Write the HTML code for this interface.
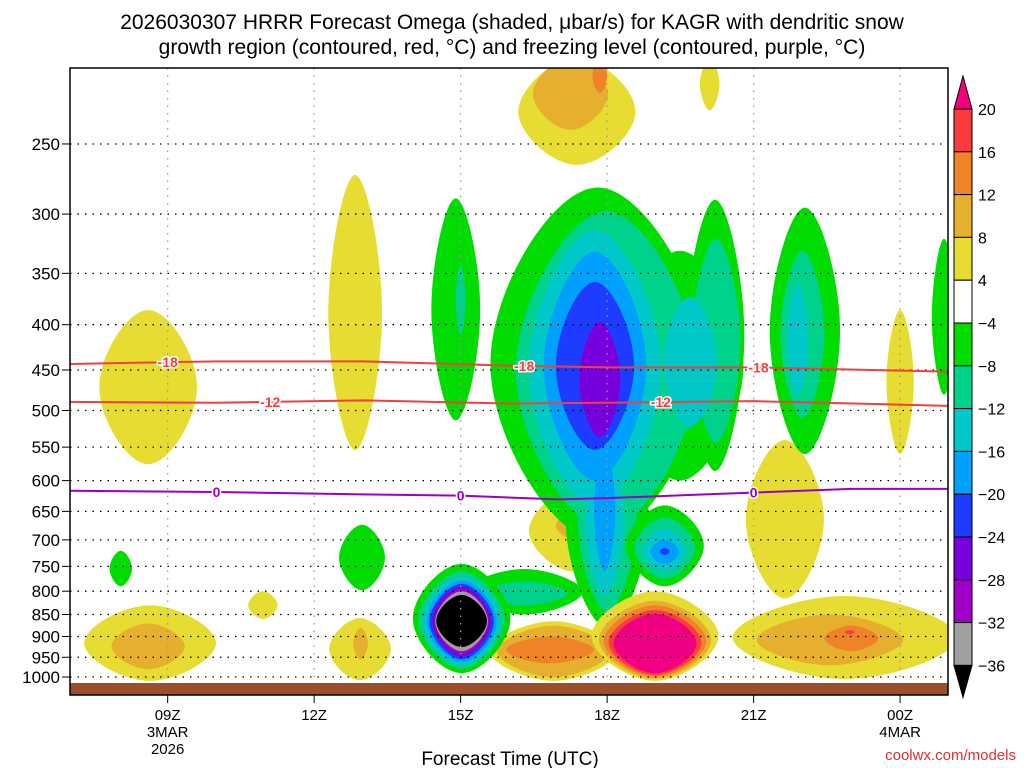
<!DOCTYPE html>
<html><head><meta charset="utf-8"><style>
body{margin:0;background:#fff;}
svg{display:block;font-family:"Liberation Sans",sans-serif;}
</style></head><body>
<svg id="c" width="1024" height="768" viewBox="0 0 1024 768">
<defs><clipPath id="pc"><rect x="70" y="68" width="878" height="627"/></clipPath></defs>
<text x="512" y="29" text-anchor="middle" font-size="21" fill="#000">2026030307 HRRR Forecast Omega (shaded, μbar/s) for KAGR with dendritic snow</text>
<text x="512" y="54" text-anchor="middle" font-size="21" fill="#000">growth region (contoured, red, °C) and freezing level (contoured, purple, °C)</text>
<g id="shade" clip-path="url(#pc)"></g>
<g id="grid"></g>
<g id="lines" clip-path="url(#pc)"></g>
<rect x="70" y="683" width="878" height="12" fill="#9c4f2b"/>
<rect x="70" y="68" width="878" height="627" fill="none" stroke="#000" stroke-width="1.5"/>
<g id="axes"></g>
<g id="cbar"></g>
<text x="510" y="765" text-anchor="middle" font-size="19" fill="#000">Forecast Time (UTC)</text>
<text x="1016" y="760" text-anchor="end" font-size="15" fill="#e23030">coolwx.com/models</text>
</svg>
<script>
// ---- data (hour, half-width hours, top pressure, bottom pressure, omega level) ----
const leftBlobs=[[8.6,1.0,385,575,4],[8.64,1.35,830,1010,4],[8.6,0.75,870,980,8],[8.04,0.23,720,790,-4],[10.95,0.3,800,860,4]];
const midBlobs=[[12.84,0.55,271,554,4],[12.94,0.63,858,1008,4],[12.95,0.15,880,955,8],[12.98,0.47,673,798,-4],[14.9,0.5,288,513,-4],[15.0,0.1,342,411,-8]];
const topBlobs=[[17.38,1.2,200,264,4],[17.25,0.77,200,241,8],[17.85,0.15,200,219,12],[20.1,0.2,200,229,4]];
const lowYellow=[[17.3,0.9,615,760,4],[17.35,0.4,650,700,8],[18.06,0.35,700,850,4]];
const mainCore=[[17.81,2.2,280,700,-4],[18.0,0.85,500,880,-4],[19.49,1.3,330,600,-4],[20.21,0.6,289,585,-4],
 [17.98,1.85,298,680,-8],[18.0,0.6,520,845,-8],[20.23,0.5,320,544,-8],[19.3,0.8,380,540,-8],
 [17.75,1.35,313,640,-12],[17.95,0.4,540,810,-12],[19.7,0.55,372,522,-12],
 [17.75,1.05,331,600,-16],[17.95,0.22,550,760,-16],[17.75,0.8,358,554,-20],[17.85,0.42,397,536,-24]];
const lowBlobs=[[16.9,1.3,865,1010,4],[16.9,1.15,875,1000,8],[16.83,0.9,900,965,12],
 [18.98,1.3,800,1010,4],[18.98,1.15,820,1005,8],[18.98,1.05,830,1000,12],[18.98,0.95,840,995,16],[18.98,0.85,848,990,20],
 [19.18,0.8,640,790,-4],[19.18,0.62,660,775,-8],[19.18,0.45,680,760,-12],[19.18,0.3,700,745,-16],[19.18,0.1,715,728,-20]];
const ringBlobs=[[16.3,1.2,755,850,-4],[16.3,0.9,780,830,-8],
 [15.02,1.0,745,990,-4],[15.02,0.88,760,978,-8],[15.02,0.8,770,970,-12],[15.02,0.72,778,962,-16],[15.02,0.66,785,955,-20],[15.02,0.6,790,948,-24],[15.02,0.56,795,942,-28],[15.02,0.54,800,935,-32],[15.02,0.52,808,925,-36]];
const rightBlobs=[[21.64,0.8,540,815,4],[22.05,0.72,295,560,-4],[22.0,0.45,330,510,-8],[21.9,0.22,360,480,-12],
 [24.9,0.25,320,480,-4],[24.0,0.28,385,560,4],
 [22.87,2.3,810,1005,4],[22.56,1.5,850,970,8],[23.0,0.55,875,935,12],[22.97,0.1,885,895,16]];
const lineHours=[7,10,13,16,18,21,25];
const minus18P=[443,440,440,445,447,447,452];
const minus12P=[489,490,487,491,490,488,494];
const zeroHours=[7,10,13,15,17,18,20,23,25];
const zeroP=[616,618,622,624,630,628,622,613,613];
const timeTickHours=[9,12,15,18,21,24];
const timeTickLabels=["09Z","12Z","15Z","18Z","21Z","00Z"];
const pressureTicks=[250,300,350,400,450,500,550,600,650,700,750,800,850,900,950,1000];
const cbarLevels=[20,16,12,8,4,-4,-8,-12,-16,-20,-24,-28,-32,-36];
const cbarColors=["#fa3c3c","#f08228","#e6af2d","#e6dc32","#ffffff","#00dc00","#00d28c","#00c8c8","#00a0ff","#1e3cff","#7800dc","#a000c8","#a0a0a0"];
// ---- axes ----
const X=h=>70+(h-7)*48.83;
const Y=p=>677-384.5*Math.log(1000/p);
const COL={"4":"#e6dc32","8":"#e6af2d","12":"#f08228","16":"#fa3c3c","20":"#f00082","-4":"#00dc00","-8":"#00d28c","-12":"#00c8c8","-16":"#00a0ff","-20":"#1e3cff","-24":"#7800dc","-28":"#a000c8","-32":"#a0a0a0","-36":"#000000"};
const NS="http://www.w3.org/2000/svg";
function mk(t,a,parent){const e=document.createElementNS(NS,t);for(const k in a)e.setAttribute(k,a[k]);parent.appendChild(e);return e;}
function lens(cx,cy,rx,ry){
 const k=0.42,kx=rx*k,ky=ry*k;
 return `M${cx} ${cy-ry} C${cx+kx} ${cy-ry} ${cx+rx} ${cy-ky} ${cx+rx} ${cy} C${cx+rx} ${cy+ky} ${cx+kx} ${cy+ry} ${cx} ${cy+ry} C${cx-kx} ${cy+ry} ${cx-rx} ${cy+ky} ${cx-rx} ${cy} C${cx-rx} ${cy-ky} ${cx-kx} ${cy-ry} ${cx} ${cy-ry} Z`;
}
const shade=document.getElementById('shade');
[leftBlobs,midBlobs,topBlobs,lowYellow,mainCore,lowBlobs,ringBlobs,rightBlobs].forEach(group=>{
 group.forEach(b=>{
  const yt=Y(b[2]),yb=Y(b[3]);
  const e=mk('path',{d:lens(X(b[0]),(yt+yb)/2,b[1]*48.83,(yb-yt)/2),fill:COL[b[4]]},shade);
  
  
 });
});
const grid=document.getElementById('grid'),axes=document.getElementById('axes');
pressureTicks.forEach(p=>{
 const y=Y(p);
 const l=mk('line',{x1:70,x2:948,y1:y,y2:y,stroke:"#000","stroke-width":1.3,"stroke-dasharray":"1.5 6"},grid);
 
 
 const t=mk('text',{x:60,y:y+6,"text-anchor":"end","font-size":17,fill:"#000"},axes);
 t.textContent=p;
 
 
 mk('line',{x1:62,x2:70,y1:y,y2:y,stroke:"#000"},axes);
});
timeTickHours.forEach((h,i)=>{
 const x=X(h);
 const l=mk('line',{x1:x,x2:x,y1:68,y2:683,stroke:"#999","stroke-width":1.3,"stroke-dasharray":"1.5 6"},grid);
 
 
 mk('line',{x1:x,x2:x,y1:695,y2:703,stroke:"#000"},axes);
 const t=mk('text',{x:x,y:720,"text-anchor":"middle","font-size":15,fill:"#000"},axes);
 t.textContent=timeTickLabels[i];
 
 
});
[["3MAR",X(9),737],["2026",X(9),754],["4MAR",X(24),737]].forEach(d=>{
 const t=mk('text',{x:d[1],y:d[2],"text-anchor":"middle","font-size":15,fill:"#000"},axes);
 t.textContent=d[0];
 
 
});
const lines=document.getElementById('lines');
function contour(hours,ps,color,name,labels,txt){
 const d=hours.map((h,i)=>(i?'L':'M')+X(h)+' '+Y(ps[i])).join(' ');
 const p=mk('path',{d:d,fill:"none",stroke:color,"stroke-width":2},lines);
 
 
 labels.forEach(h=>{
  let i=0;while(i<hours.length-2&&hours[i+1]<h)i++;
  const f=(h-hours[i])/(hours[i+1]-hours[i]);const y=Y(ps[i]+(ps[i+1]-ps[i])*f);
  const t=mk('text',{x:X(h),y:y+5,"text-anchor":"middle","font-size":14,"font-weight":"bold",fill:color,stroke:"#fff","stroke-width":3,"paint-order":"stroke"},lines);
  t.textContent=txt;
  
  
 });
}
contour(lineHours,minus18P,"#f04040","minus18-contour",[9,16.3,21.1],"-18");
contour(lineHours,minus12P,"#f04040","minus12-contour",[11.1,19.1],"-12");
contour(zeroHours,zeroP,"#9a00c8","freezing-level-contour",[10,15,21],"0");
// colorbar
const cb=document.getElementById('cbar');
const cbTop=109,bh=42.8;
let tri=mk('path',{d:`M954 ${cbTop} L963 76 L972 ${cbTop} Z`,fill:"#f0007f",stroke:"#000"},cb);


cbarColors.forEach((c,i)=>{
 const r=mk('rect',{x:954,y:cbTop+i*bh,width:18,height:bh,fill:c,stroke:"#000"},cb);
 
 
});
const cbBot=cbTop+cbarColors.length*bh;
tri=mk('path',{d:`M954 ${cbBot} L963 ${cbBot+32} L972 ${cbBot} Z`,fill:"#000",stroke:"#000"},cb);


cbarLevels.forEach((v,i)=>{
 const t=mk('text',{x:978,y:cbTop+i*bh+6,"font-size":16,fill:"#000"},cb);
 t.textContent=v<0?'\u2212'+(-v):v;
 
 
});
</script>
</body></html>
